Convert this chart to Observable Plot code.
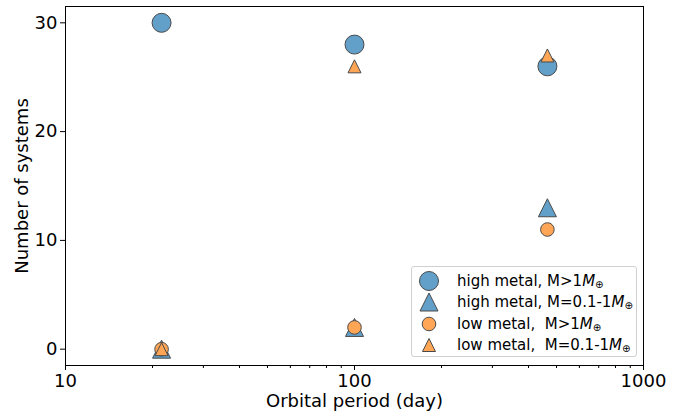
<!DOCTYPE html>
<html>
<head>
<meta charset="utf-8">
<script src="https://cdn.jsdelivr.net/npm/d3@7"></script>
<script src="https://cdn.jsdelivr.net/npm/@observablehq/plot@0.6"></script>
<style>
  body { margin: 0; background: #fff; font-family: "DejaVu Sans", sans-serif; }
  #wrap { position: relative; width: 694px; height: 418px; }
  #legend {
    position: absolute; left: 411px; top: 266px; width: 226px; height: 91px;
    border: 1px solid #d0d0d0; border-radius: 3px; background: rgba(255,255,255,0.85);
    box-sizing: border-box; font-family: "DejaVu Sans", sans-serif; font-size: 15px; color: #000;
  }
  .row { position: absolute; left: 0; height: 21px; display: flex; align-items: center; }
  .row svg { margin-left: 6px; margin-right: 17px; }
  .row i { font-style: italic; }
  .row sub { font-size: 10px; vertical-align: -2px; }
</style>
</head>
<body>
<div id="wrap"></div>
<script>
const periods = [21.5, 100, 465];
const highMetalBig = [30, 28, 26];     // high metal, M>1 M_earth
const highMetalSmall = [0, 2, 13];     // high metal, M=0.1-1 M_earth
const lowMetalBig = [0, 2, 11];        // low metal, M>1 M_earth
const lowMetalSmall = [0, 26, 27];     // low metal, M=0.1-1 M_earth
const seriesNames = [
  "high metal, M>1",
  "high metal, M=0.1-1",
  "low metal,  M>1",
  "low metal,  M=0.1-1"
];
const xTicks = [10, 100, 1000];
const xMinor = [20,30,40,50,60,70,80,90,200,300,400,500,600,700,800,900];
const yTicks = [0, 10, 20, 30];

const blue = "#62a0ca";
const orange = "#ffa556";
const edge = "#4a4a4a";

// matplotlib-like '^' marker
const mplTriangle = {
  draw(context, size) {
    const r = Math.sqrt(size / Math.PI);
    context.moveTo(0, -r);
    context.lineTo(r, r);
    context.lineTo(-r, r);
    context.closePath();
  }
};

const series = [
  {name: seriesNames[0], values: highMetalBig, symbol: "circle", r: 9.5, fill: blue},
  {name: seriesNames[1], values: highMetalSmall, symbol: mplTriangle, r: 9, fill: blue},
  {name: seriesNames[2], values: lowMetalBig, symbol: "circle", r: 6.8, fill: orange},
  {name: seriesNames[3], values: lowMetalSmall, symbol: mplTriangle, r: 6.5, fill: orange}
];

const dotMarks = series.map(s => Plot.dot(
  periods.map((p, i) => ({p, v: s.values[i]})),
  {x: "p", y: "v", symbol: () => s.symbol, r: s.r, fill: s.fill, stroke: edge, strokeWidth: 1}
));

const chart = Plot.plot({
  width: 694,
  height: 418,
  marginLeft: 65,
  marginRight: 51,
  marginTop: 6,
  marginBottom: 53,
  style: {fontFamily: "DejaVu Sans, sans-serif", fontSize: "18px", color: "#000", background: "#fff"},
  symbol: {type: "identity"},
  x: {type: "log", domain: [10, 1000]},
  y: {domain: [-1.5, 31.5]},
  marks: [
    Plot.axisX({ticks: xMinor, tickSize: 3, tickFormat: () => "", label: null, stroke: "#000"}),
    Plot.axisX({ticks: xTicks, tickSize: 5, tickPadding: 4, tickFormat: d => String(d), fontSize: 18,
      label: "Orbital period (day)", labelAnchor: "center", labelArrow: "none", labelOffset: 41, stroke: "#000"}),
    Plot.axisY({ticks: yTicks, tickSize: 5, tickPadding: 3, tickFormat: d => String(d), fontSize: 18,
      label: "Number of systems", labelAnchor: "center", labelArrow: "none", labelOffset: 50, stroke: "#000"}),
    ...dotMarks,
    Plot.frame({stroke: "#000", strokeWidth: 1})
  ]
});
document.getElementById("wrap").appendChild(chart);

// legend
const legend = document.createElement("div");
legend.id = "legend";
series.forEach((s, i) => {
  const row = document.createElement("div");
  row.className = "row";
  row.style.top = (3 + i * 21.5) + "px";
  const size = 22;
  const sym = typeof s.symbol === "string" ? d3.symbolCircle : s.symbol;
  const path = d3.symbol(sym, Math.PI * s.r * s.r)();
  row.innerHTML =
    `<svg width="${size}" height="${size}" viewBox="${-size/2} ${-size/2} ${size} ${size}">` +
    `<path d="${path}" fill="${s.fill}" stroke="${edge}" stroke-width="1"/></svg>` +
    `<span style="white-space:pre">${s.name}<i>M</i><sub>⊕</sub></span>`;
  legend.appendChild(row);
});
document.getElementById("wrap").appendChild(legend);
</script>
</body>
</html>
